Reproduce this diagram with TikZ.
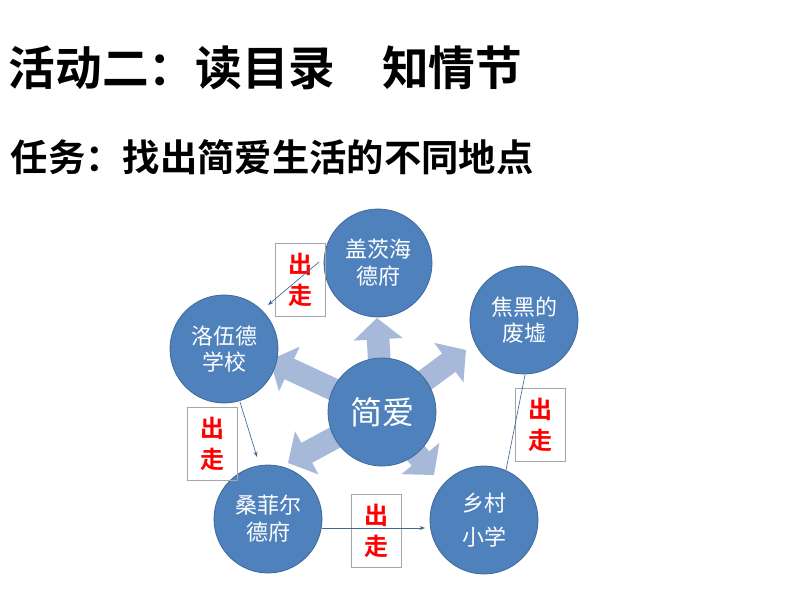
\documentclass[tikz,border=0pt]{standalone}
\usepackage{fontspec}
\newfontfamily\cjk{Noto Sans CJK SC}
\newfontfamily\cjkb{Noto Sans CJK SC Bold}
\usetikzlibrary{arrows.meta}
\definecolor{cblue}{HTML}{4F81BD}
\definecolor{barrow}{HTML}{A7B9D8}
\begin{document}
\begin{tikzpicture}[x=0.75pt,y=-0.75pt,
  place/.style={circle,fill=cblue,draw=cblue!80!black,line width=0.6pt,minimum size=81pt,inner sep=0pt,text=white,font=\cjk\fontsize{16.5}{20}\selectfont,align=center},
  tag/.style={draw=gray!70,line width=0.5pt,minimum width=37.5pt,minimum height=55pt,inner sep=0pt,text=red,font=\cjkb\fontsize{18}{23}\selectfont,align=center},
  big/.style={barrow,line width=17pt,-{Triangle[width=36pt,length=16pt]}},
  thin/.style={draw=cblue!80!black,line width=0.5pt,-{Stealth[length=4pt,width=3pt]}}]
\useasboundingbox (0,0) rectangle (794,596);
\node[anchor=west,font=\cjkb\fontsize{35}{40}\selectfont] (t1) at (4,68) {活动二：读目录\hspace{1em}知情节};
\node[anchor=west,font=\cjkb\fontsize{28}{32}\selectfont] (t2) at (6,157) {任务：找出简爱生活的不同地点};
% big arrows
\coordinate (c0) at (382,412);
\coordinate (e1) at (377,318);
\coordinate (e2) at (466,350);
\coordinate (e3) at (270,360);
\coordinate (e4) at (288,463);
\coordinate (e5) at (434,475);
\foreach \e in {e1,e2,e3,e4,e5} \draw[big] (c0) -- (\e);
% circles
\node[place] (jy) at (382,412) {\fontsize{24}{28}\selectfont 简爱};
\node[place] (gc) at (378,263) {盖茨海\\德府};
\node[place] (jh) at (524,320) {焦黑的\\废墟};
\node[place] (lw) at (224,349) {洛伍德\\学校};
\node[place] (sf) at (268,519) {桑菲尔\\德府};
\node[place] (xc) at (484,520) {乡村\\[5pt]小学};
% tags
\node[tag] (b1) at (300,280) {出\\走};
\node[tag] (b2) at (212,444) {出\\走};
\node[tag] (b3) at (376,531) {出\\走};
\node[tag] (b4) at (540,425) {出\\走};
% thin connectors
\coordinate (a1) at (319,262);
\coordinate (a2) at (268,305);
\coordinate (a3) at (240,402);
\coordinate (a4) at (257,457);
\coordinate (a5) at (322,528);
\coordinate (a6) at (425,528);
\coordinate (a7) at (525,375);
\coordinate (a8) at (506,470);
\draw[thin] (a1) -- (a2);
\draw[thin] (a3) -- (a4);
\draw[thin] (a5) -- (a6);
\draw[draw=cblue!80!black,line width=0.5pt] (a7) -- (a8);
\end{tikzpicture}
\end{document}
